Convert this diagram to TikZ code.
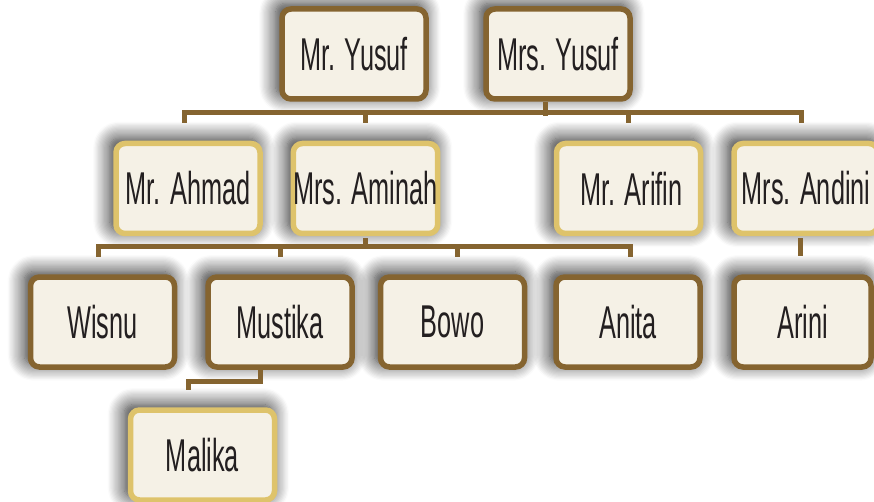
\documentclass[tikz,border=0pt]{standalone}
\usepackage{fontspec}
\setmainfont{Liberation Sans}[FakeStretch=0.55]
\usetikzlibrary{shadows.blur}
\definecolor{bark}{HTML}{856430}
\definecolor{straw}{HTML}{DEC36B}
\definecolor{cream}{HTML}{F5F1E6}
\definecolor{ink}{HTML}{231F20}
\tikzset{
  person/.style={draw=bark,fill=cream,line width=5.5pt,rounded corners=9pt,
    minimum width=144pt,minimum height=90pt,inner sep=0pt,text=ink,
    font=\fontsize{46}{54}\selectfont,
    blur shadow={shadow xshift=-4pt,shadow yshift=4pt,shadow blur radius=16pt,
      shadow blur extra rounding=8pt,shadow opacity=85,shadow blur steps=14,
      shadow scale=1.03}},
  inlaw/.style={person,draw=straw},
  link/.style={draw=bark,line width=5pt}
}

\begin{document}
\begin{tikzpicture}[x=1pt,y=1pt]
  \useasboundingbox (0,0) rectangle (874,-502);
  % grandparents
  \node[person] (yusuf) at (354,-54) {Mr. Yusuf};
  \node[person] (mrsyusuf) at (558,-54) {Mrs. Yusuf};
  % children and spouses
  \node[inlaw] (ahmad) at (188,-188.5) {Mr. Ahmad};
  \node[inlaw] (aminah) at (365.5,-188.5) {Mrs. Aminah};
  \node[inlaw] (arifin) at (628.5,-188.5) {\hspace*{6pt}Mr. Arifin};
  \node[inlaw] (andini) at (806,-188.5) {Mrs. Andini};
  % grandchildren
  \node[person] (wisnu) at (102.5,-322) {Wisnu};
  \node[person] (mustika) at (280,-322) {Mustika};
  \node[person] (bowo) at (452.5,-322) {Bowo};
  \node[person] (anita) at (628,-322) {Anita};
  \node[person,minimum width=137pt] (arini) at (802.5,-322) {Arini};
  \node[inlaw] (malika) at (202.5,-455) {Malika};

  % lines
  \draw[link] ([xshift=-13pt]mrsyusuf.south) -- ++(0,-14);
  \draw[link] ([xshift=-4pt]ahmad.north |- 0,-123) |- ([xshift=-5pt]andini.north |- 0,-113) -- ++(0,-10);
  \draw[link] (aminah.north |- 0,-113) -- ++(0,-10);
  \draw[link] (arifin.north |- 0,-113) -- ++(0,-10);

  \draw[link] ([yshift=-2pt]aminah.south) -- ++(0,-10);
  \draw[link] ([xshift=-4pt]wisnu.north |- 0,-257) |- ([xshift=2pt]anita.north |- 0,-247) -- ++(0,-10);
  \draw[link] (mustika.north |- 0,-247) -- ++(0,-10);
  \draw[link] ([xshift=5pt]bowo.north |- 0,-247) -- ++(0,-10);
  \draw[link] ([xshift=-6pt,yshift=-2pt]andini.south) -- ++(0,-18);

  \draw[link] ([xshift=-20pt]mustika.south) -- ++(0,-12) -| ++(-72,-8);
\end{tikzpicture}
\end{document}
